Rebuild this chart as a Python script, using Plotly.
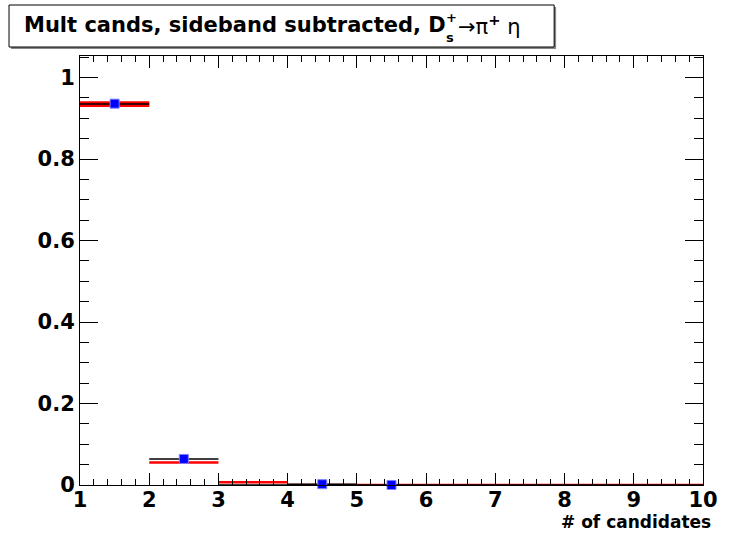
import plotly.graph_objects as go

# Candidate multiplicity, sideband subtracted
bin_edges = [1, 2, 3, 4, 5, 6, 7, 8, 9, 10]
black_vals = [0.935, 0.064, 0.0, 0.002, 0.0, 0.0, 0.0, 0.0, 0.0]
red_vals = [0.935, 0.055, 0.0066, 0.0, 0.0, 0.0, 0.0, 0.0, 0.0]
red_errs = [0.007, 0.0, 0.0, 0.0, 0.0, 0.0, 0.0, 0.0, 0.0]
blue_x = [1.5, 2.5, 4.5, 5.5]
blue_vals = [0.936, 0.064, 0.002, 0.0]

W, H = 730, 536
L, R, T, B = 80, 18, 56, 51
PW, PH = W - L - R, H - T - B


def px(x):
    return (x - L) / PW


def py(y):
    return (H - B - y) / PH


def segments(edges, vals):
    xs, ys = [], []
    for i, v in enumerate(vals):
        xs += [edges[i], edges[i + 1], None]
        ys += [v, v, None]
    return xs, ys


def boxes(edges, vals, errs):
    xs, ys = [], []
    for i, (v, e) in enumerate(zip(vals, errs)):
        if e > 0:
            lo, hi = edges[i], edges[i + 1]
            xs += [lo, hi, hi, lo, lo, None]
            ys += [v - e, v - e, v + e, v + e, v - e, None]
    return xs, ys


fig = go.Figure()

bx, by = boxes(bin_edges, red_vals, red_errs)
fig.add_trace(go.Scatter(x=bx, y=by, mode="lines", fill="toself",
                         fillcolor="#ff0000", line=dict(width=0, color="#ff0000"),
                         hoverinfo="skip"))
rx, ry = segments(bin_edges, red_vals)
fig.add_trace(go.Scatter(x=rx, y=ry, mode="lines",
                         line=dict(color="#ff0000", width=2.5)))
kx, ky = segments(bin_edges, black_vals)
fig.add_trace(go.Scatter(x=kx, y=ky, mode="lines",
                         line=dict(color="#000000", width=1.5)))
fig.add_trace(go.Scatter(x=blue_x, y=blue_vals, mode="markers", cliponaxis=False,
                         marker=dict(symbol="square", size=9, color="#0000ff",
                                     line=dict(color="#7f7fff", width=1))))

BOLD = "DejaVu Sans"
axis_font = dict(family=BOLD, size=21, color="black", weight="bold")

fig.update_xaxes(range=[1, 10], dtick=1, tick0=1, ticks="inside", ticklen=12,
                 tickwidth=1, tickcolor="black", showline=True, linecolor="black",
                 linewidth=1, mirror="allticks", showgrid=False, zeroline=False,
                 tickfont=axis_font, ticklabelstandoff=-4,
                 minor=dict(dtick=0.2, tick0=1, ticks="inside", ticklen=6,
                            tickcolor="black", showgrid=False))
fig.update_yaxes(range=[0, 1.053], dtick=0.2, tick0=0, ticks="inside", ticklen=18,
                 tickwidth=1, tickcolor="black", showline=True, linecolor="black",
                 linewidth=1, mirror="allticks", showgrid=False, zeroline=False,
                 tickfont=axis_font,
                 minor=dict(dtick=0.05, tick0=0, ticks="inside", ticklen=9,
                            tickcolor="black", showgrid=False))

# title box with shadow
fig.add_shape(type="rect", xref="paper", yref="paper",
              x0=px(10), x1=px(563), y0=py(49), y1=py(7),
              fillcolor="#888888", line=dict(width=0), layer="below")
fig.add_shape(type="rect", xref="paper", yref="paper",
              x0=px(8), x1=px(561), y0=py(47), y1=py(5),
              fillcolor="white", line=dict(color="black", width=1), layer="below")

title_font = dict(family=BOLD, size=21, color="black", weight="bold")
fig.add_annotation(xref="paper", yref="paper", x=px(21), y=py(25), xanchor="left",
                   yanchor="middle", showarrow=False,
                   text="Mult cands, sideband subtracted, D", font=title_font)
fig.add_annotation(xref="paper", yref="paper", x=px(449), y=py(17), xanchor="left",
                   yanchor="middle", showarrow=False, text="+",
                   font=dict(family=BOLD, size=13, color="black", weight="bold"))
fig.add_annotation(xref="paper", yref="paper", x=px(449), y=py(37), xanchor="left",
                   yanchor="middle", showarrow=False, text="s",
                   font=dict(family=BOLD, size=13, color="black", weight="bold"))
fig.add_annotation(xref="paper", yref="paper", x=px(461), y=py(25), xanchor="left",
                   yanchor="middle", showarrow=False,
                   text="→π<sup><b>+</b></sup> η",
                   font=dict(family="DejaVu Sans", size=21, color="black"))

fig.add_annotation(xref="paper", yref="paper", x=1.0, y=py(522), xanchor="right",
                   yanchor="middle", showarrow=False, text="# of candidates",
                   xshift=10,
                   font=dict(family=BOLD, size=17, color="black", weight="bold"))

fig.update_layout(width=W, height=H, margin=dict(l=L, r=R, t=T, b=B),
                  paper_bgcolor="white", plot_bgcolor="white", showlegend=False)

fig.write_html("out.html")
